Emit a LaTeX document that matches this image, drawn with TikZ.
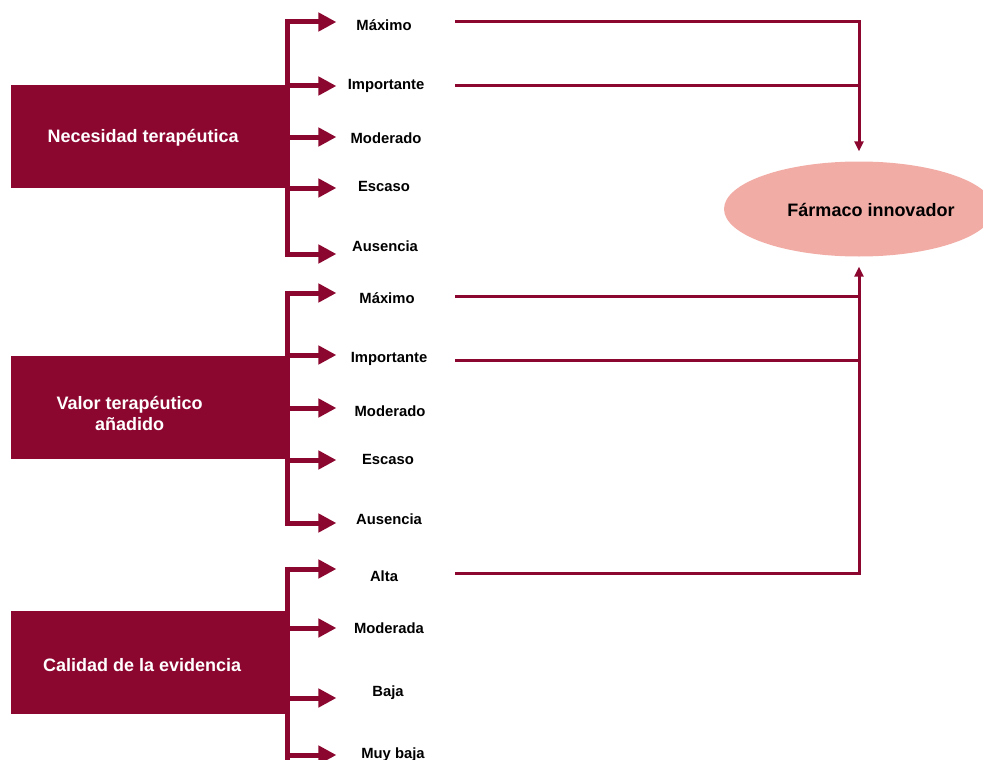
\documentclass[tikz,border=0pt]{standalone}
\usepackage{fontspec}
\setmainfont{Liberation Sans}
\usetikzlibrary{positioning,arrows.meta,shapes.geometric}
\definecolor{Wine}{HTML}{8C0730}
\definecolor{Salmon}{HTML}{F2ACA6}

\begin{document}
\begin{tikzpicture}[
  x=1pt, y=-1pt,
  box/.style={fill=Wine, minimum width=279pt, minimum height=103pt, inner sep=0pt, anchor=north west},
  boxtext/.style={text=white, font=\fontsize{18}{21.5}\selectfont\bfseries, align=center, inner sep=0pt},
  level/.style={font=\fontsize{14.8}{17}\selectfont\bfseries, inner sep=0pt},
  bar/.style={line width=5pt, color=Wine},
  branch/.style={line width=5pt, color=Wine, -{Triangle[width=18pt,length=18pt]}},
  link/.style={line width=3pt, color=Wine},
  result/.style={-{Triangle[width=9pt,length=10pt]}, line width=3pt, color=Wine, shorten >=10pt}
]
  \useasboundingbox (0,0) rectangle (983,760);

  % criterios
  \node[box, label={[boxtext, xshift=-7.5pt, yshift=-1.5pt]center:Necesidad terapéutica}] (nec) at (11,85) {};
  \node[box, label={[boxtext, xshift=-21pt, yshift=-6pt]center:Valor terapéutico\\añadido}] (val) at (11,356) {};
  \node[box, label={[boxtext, xshift=-8.5pt, yshift=-2.5pt]center:Calidad de la evidencia}] (cal) at (11,611) {};

  % niveles
  \node[level] (n1) at (384,25) {Máximo};
  \node[level] (n2) at (386,86) {Importante};
  \node[level] (n3) at (386,138) {Moderado};
  \node[level] (n4) at (384,186) {Escaso};
  \node[level] (n5) at (385,246) {Ausencia};

  \node[level] (v1) at (387,298) {Máximo};
  \node[level] (v2) at (389,359) {Importante};
  \node[level] (v3) at (390,411) {Moderado};
  \node[level] (v4) at (388,459) {Escaso};
  \node[level] (v5) at (389,519) {Ausencia};

  \node[level] (c1) at (384,576) {Alta};
  \node[level] (c2) at (389,628) {Moderada};
  \node[level] (c3) at (388,693) {Baja};
  \node[level] (c4) at (393,755) {Muy baja};

  \node[ellipse, fill=Salmon, minimum width=270pt, minimum height=95pt, inner sep=0pt,
        label={[level, font=\fontsize{18}{21}\selectfont\bfseries, xshift=12pt, yshift=-1pt]center:Fármaco innovador}] (farmaco) at (859,209) {};

  % ramas
  \draw[bar] ([xshift=-2.5pt]nec.east |- 0,19.5) -- ([xshift=-2.5pt]nec.east |- 0,256.5);
  \draw[branch] ([xshift=-5pt]nec.east |- 0,22) -- ++(51,0);
  \draw[branch] ([xshift=-5pt]nec.east |- 0,86) -- ++(51,0);
  \draw[branch] ([xshift=-5pt]nec.east |- 0,137) -- ++(51,0);
  \draw[branch] ([xshift=-5pt]nec.east |- 0,188) -- ++(51,0);
  \draw[branch] ([xshift=-5pt]nec.east |- 0,254) -- ++(51,0);

  \draw[bar] ([xshift=-2.5pt]val.east |- 0,290.5) -- ([xshift=-2.5pt]val.east |- 0,525.5);
  \draw[branch] ([xshift=-5pt]val.east |- 0,293) -- ++(51,0);
  \draw[branch] ([xshift=-5pt]val.east |- 0,355) -- ++(51,0);
  \draw[branch] ([xshift=-5pt]val.east |- 0,408) -- ++(51,0);
  \draw[branch] ([xshift=-5pt]val.east |- 0,460) -- ++(51,0);
  \draw[branch] ([xshift=-5pt]val.east |- 0,523) -- ++(51,0);

  \draw[bar] ([xshift=-2.5pt]cal.east |- 0,566.5) -- ([xshift=-2.5pt]cal.east |- 0,762);
  \draw[branch] ([xshift=-5pt]cal.east |- 0,569) -- ++(51,0);
  \draw[branch] ([xshift=-5pt]cal.east |- 0,628) -- ++(51,0);
  \draw[branch] ([xshift=-5pt]cal.east |- 0,698) -- ++(51,0);
  \draw[branch] ([xshift=-5pt]cal.east |- 0,755) -- ++(51,0);

  % enlaces al resultado
  \draw[link] ([xshift=31pt]n2.east |- 0,22) -| (farmaco.north |- 0,86);
  \draw[result] ([xshift=31pt]n2.east |- 0,86) -| (farmaco.north);
  \draw[link] ([xshift=28pt]v2.east |- 0,296) -| (farmaco.south |- 0,360);
  \draw[link] ([xshift=28pt]v2.east |- 0,360) -| (farmaco.south |- 0,573);
  \draw[result] ([xshift=28pt]v2.east |- 0,573) -| (farmaco.south);
\end{tikzpicture}
\end{document}
